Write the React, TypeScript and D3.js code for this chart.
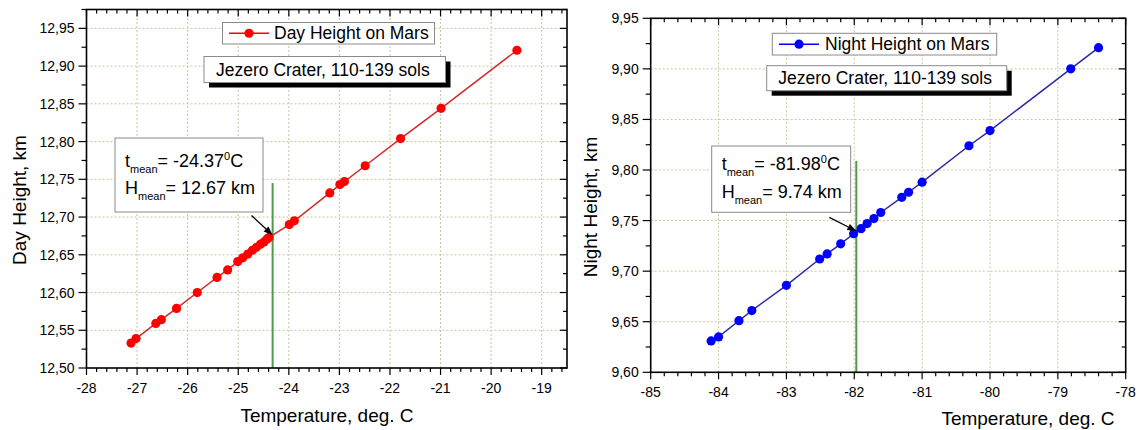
import React from "react";
import * as d3 from "d3";

// ---------- data ----------
const dayTemp = [-27.12, -27.02, -26.63, -26.52, -26.22, -25.81, -25.42, -25.21, -25.01, -24.91, -24.81, -24.72, -24.64, -24.56, -24.49, -24.43, -24.39, -23.99, -23.89, -23.19, -22.99, -22.9, -22.49, -21.79, -20.99, -19.49];
const dayHeight = [12.533, 12.539, 12.559, 12.564, 12.579, 12.6, 12.62, 12.63, 12.641, 12.646, 12.651, 12.656, 12.66, 12.664, 12.667, 12.671, 12.673, 12.69, 12.695, 12.732, 12.743, 12.747, 12.768, 12.804, 12.844, 12.921];

const nightTemp = [-84.11, -84.0, -83.7, -83.51, -83.0, -82.51, -82.4, -82.2, -82.01, -81.9, -81.81, -81.71, -81.61, -81.3, -81.2, -81.0, -80.31, -80.0, -78.81, -78.4];
const nightHeight = [9.631, 9.635, 9.651, 9.661, 9.686, 9.712, 9.717, 9.727, 9.737, 9.742, 9.747, 9.752, 9.758, 9.773, 9.778, 9.788, 9.824, 9.839, 9.9, 9.921];

const dayXTicks = [-28, -27, -26, -25, -24, -23, -22, -21, -20, -19];
const dayYTicks = [12.5, 12.55, 12.6, 12.65, 12.7, 12.75, 12.8, 12.85, 12.9, 12.95];
const nightXTicks = [-85, -84, -83, -82, -81, -80, -79, -78];
const nightYTicks = [9.6, 9.65, 9.7, 9.75, 9.8, 9.85, 9.9, 9.95];

const dayMean = { tLabel: "-24.37", hLabel: "12.67", tLine: -24.32, hTip: 12.676, hLineTop: 12.745 };
const nightMean = { tLabel: "-81.98", hLabel: "9.74", tLine: -81.97, hTip: 9.7396, hLineTop: 9.809 };

const FONT = "'Liberation Sans', Arial, Helvetica, sans-serif";

type PanelProps = {
  temps: number[];
  heights: number[];
  xDomain: [number, number];
  yDomain: [number, number];
  xRange: [number, number];
  yRange: [number, number];
  xTicks: number[];
  yTicks: number[];
  xMinorStep: number;
  yMinorStep: number;
  lineColor: string;
  dotColor: string;
  legendText: string;
  legendBox: { x: number; y: number; w: number; h: number; sym: number; tx: number };
  craterBox: { x: number; y: number; w: number; h: number; tx: number; ty: number };
  annBox: { x: number; y: number; w: number; h: number; tx: number; ty1: number; ty2: number };
  mean: typeof dayMean;
  arrowTail: [number, number];
  yLabel: string;
  yLabelX: number;
  yLabelY: number;
  xLabelX: number;
  xLabelY: number;
  tickLabelY: number;
};

function Panel(p: PanelProps) {
  const x = d3.scaleLinear().domain(p.xDomain).range(p.xRange);
  const y = d3.scaleLinear().domain(p.yDomain).range(p.yRange);
  const [x0, x1] = p.xRange;
  const [y0, y1] = p.yRange; // y0 bottom, y1 top
  const eps = 1e-6;
  const xMinor = d3.range(p.xDomain[0], p.xDomain[1] + eps, p.xMinorStep);
  const yMinor = d3.range(p.yDomain[0], p.yDomain[1] + eps, p.yMinorStep);
  const isMajor = (v: number, ticks: number[]) => ticks.some((t) => Math.abs(t - v) < 1e-6);
  const fmtY = (v: number) => d3.format(".2f")(v).replace(".", ",");
  const line = d3.line<number>().x((_, i) => x(p.temps[i])).y((h) => y(h));
  const tipX = x(p.mean.tLine);
  const tipY = y(p.mean.hTip);
  const [ax, ay] = p.arrowTail;
  const ang = Math.atan2(tipY - ay, tipX - ax);
  const hl = 9, hw = 3.5;
  const bx = tipX - hl * Math.cos(ang), by = tipY - hl * Math.sin(ang);
  const head = `M${tipX},${tipY} L${bx + hw * Math.sin(ang)},${by - hw * Math.cos(ang)} L${bx - hw * Math.sin(ang)},${by + hw * Math.cos(ang)} Z`;
  const lb = p.legendBox, cb = p.craterBox, ab = p.annBox;
  const gridColor = "#c9c79e";
  return (
    <g fontFamily={FONT}>
      {/* grid */}
      {p.xTicks.filter((t) => x(t) > x0 + 1 && x(t) < x1 - 1).map((t) => (
        <line key={"gx" + t} x1={x(t)} x2={x(t)} y1={y0} y2={y1} stroke={gridColor} strokeWidth={1} strokeDasharray="2,2" />
      ))}
      {p.yTicks.filter((t) => y(t) < y0 - 1 && y(t) > y1 + 1).map((t) => (
        <line key={"gy" + t} x1={x0} x2={x1} y1={y(t)} y2={y(t)} stroke={gridColor} strokeWidth={1} strokeDasharray="2,2" />
      ))}
      {/* mean vertical line */}
      <line x1={x(p.mean.tLine)} x2={x(p.mean.tLine)} y1={y0} y2={y(p.mean.hLineTop)} stroke="#4e9a4e" strokeWidth={2} />
      {/* data line and dots */}
      <path d={line(p.heights) || ""} fill="none" stroke={p.lineColor} strokeWidth={1.5} />
      {p.heights.map((h, i) => (
        <circle key={"c" + i} cx={x(p.temps[i])} cy={y(h)} r={4.6} fill={p.dotColor} />
      ))}
      {/* frame */}
      <rect x={x0} y={y1} width={x1 - x0} height={y0 - y1} fill="none" stroke="#000" strokeWidth={1.6} />
      {/* x ticks */}
      {xMinor.map((v, i) => {
        const maj = isMajor(v, p.xTicks);
        const px = x(v);
        return (
          <g key={"xt" + i}>
            <line x1={px} x2={px} y1={y0} y2={y0 + (maj ? 7 : 4)} stroke="#000" strokeWidth={1.2} />
            <line x1={px} x2={px} y1={y1} y2={y1 + (maj ? 7 : 4)} stroke="#000" strokeWidth={1.2} />
          </g>
        );
      })}
      {p.xTicks.map((t) => (
        <text key={"xl" + t} x={x(t)} y={p.tickLabelY} textAnchor="middle" fontSize={14} fill="#000">{t}</text>
      ))}
      {/* y ticks */}
      {yMinor.map((v, i) => {
        const maj = isMajor(v, p.yTicks);
        const py = y(v);
        return (
          <g key={"yt" + i}>
            <line x1={x0} x2={x0 - (maj ? 8 : 5)} y1={py} y2={py} stroke="#000" strokeWidth={1.2} />
            <line x1={x1} x2={x1 - (maj ? 7 : 4)} y1={py} y2={py} stroke="#000" strokeWidth={1.2} />
          </g>
        );
      })}
      {p.yTicks.map((t) => (
        <text key={"yl" + t} x={x0 - 12} y={y(t) + 5} textAnchor="end" fontSize={14} fill="#000">{fmtY(t)}</text>
      ))}
      {/* axis titles */}
      <text x={p.xLabelX} y={p.xLabelY} textAnchor="middle" fontSize={19} fill="#000">Temperature, deg. C</text>
      <text transform={`translate(${p.yLabelX},${p.yLabelY}) rotate(-90)`} textAnchor="middle" fontSize={19} fill="#000">{p.yLabel}</text>
      {/* legend */}
      <rect x={lb.x} y={lb.y} width={lb.w} height={lb.h} fill="#fff" stroke="#8a8a8a" strokeWidth={1} />
      <line x1={lb.sym - 20} x2={lb.sym + 20} y1={lb.y + lb.h / 2} y2={lb.y + lb.h / 2} stroke={p.dotColor} strokeWidth={1.5} />
      <circle cx={lb.sym} cy={lb.y + lb.h / 2} r={4.6} fill={p.dotColor} />
      <text x={lb.tx} y={lb.y + lb.h / 2 + 6} fontSize={17.5} fill="#000">{p.legendText}</text>
      {/* crater box with shadow */}
      <rect x={cb.x + 5} y={cb.y + 5} width={cb.w} height={cb.h} fill="#000" />
      <rect x={cb.x} y={cb.y} width={cb.w} height={cb.h} fill="#fff" stroke="#8a8a8a" strokeWidth={1} />
      <text x={cb.tx} y={cb.ty} fontSize={17.5} fill="#000">Jezero Crater, 110-139 sols</text>
      {/* annotation */}
      <rect x={ab.x} y={ab.y} width={ab.w} height={ab.h} fill="#fff" stroke="#8a8a8a" strokeWidth={1} />
      <text x={ab.tx} y={ab.ty1} fontSize={18} fill="#000">
        t<tspan dy={6} fontSize={11}>mean</tspan>
        <tspan dy={-6}>= {p.mean.tLabel}</tspan>
        <tspan dy={-7} fontSize={11}>0</tspan>
        <tspan dy={7}>C</tspan>
      </text>
      <text x={ab.tx} y={ab.ty2} fontSize={18} fill="#000">
        H<tspan dy={6} fontSize={11}>mean</tspan>
        <tspan dy={-6}>= {p.mean.hLabel} km</tspan>
      </text>
      {/* arrow */}
      <line x1={ax} y1={ay} x2={bx} y2={by} stroke="#000" strokeWidth={1.3} />
      <path d={head} fill="#000" />
    </g>
  );
}

export default function App() {
  return (
    <svg width={1139} height={430} style={{ position: "absolute", left: 0, top: 0, background: "#fff" }}>
      <rect width={1139} height={430} fill="#fff" />
      <Panel
        temps={dayTemp}
        heights={dayHeight}
        xDomain={[-28, -18.5]}
        yDomain={[12.5, 12.975]}
        xRange={[86.5, 567]}
        yRange={[368, 9.5]}
        xTicks={dayXTicks}
        yTicks={dayYTicks}
        xMinorStep={0.2}
        yMinorStep={0.025}
        lineColor="#d42a2a"
        dotColor="#ff0000"
        legendText="Day Height on Mars"
        legendBox={{ x: 222.5, y: 22.5, w: 212, h: 21.5, sym: 249, tx: 274 }}
        craterBox={{ x: 204, y: 56.5, w: 241.5, h: 26, tx: 216, ty: 76 }}
        annBox={{ x: 115, y: 138, w: 148, h: 74, tx: 125, ty1: 167, ty2: 194 }}
        mean={dayMean}
        arrowTail={[251.5, 215.5]}
        yLabel="Day Height, km"
        yLabelX={26}
        yLabelY={200}
        xLabelX={327}
        xLabelY={422}
        tickLabelY={393}
      />
      <Panel
        temps={nightTemp}
        heights={nightHeight}
        xDomain={[-85, -78]}
        yDomain={[9.6, 9.95]}
        xRange={[650.7, 1125.7]}
        yRange={[372.3, 18.3]}
        xTicks={nightXTicks}
        yTicks={nightYTicks}
        xMinorStep={0.2}
        yMinorStep={0.025}
        lineColor="#2a2aa8"
        dotColor="#0000ff"
        legendText="Night Height on Mars"
        legendBox={{ x: 772.3, y: 33.3, w: 224.4, h: 21.7, sym: 799, tx: 825 }}
        craterBox={{ x: 766.7, y: 65.7, w: 240, h: 25, tx: 778.3, ty: 84 }}
        annBox={{ x: 711.7, y: 146, w: 139, h: 66.3, tx: 721.7, ty1: 170, ty2: 197.5 }}
        mean={nightMean}
        arrowTail={[829.3, 217.3]}
        yLabel="Night Height, km"
        yLabelX={597}
        yLabelY={207}
        xLabelX={1028}
        xLabelY={425}
        tickLabelY={397}
      />
    </svg>
  );
}
